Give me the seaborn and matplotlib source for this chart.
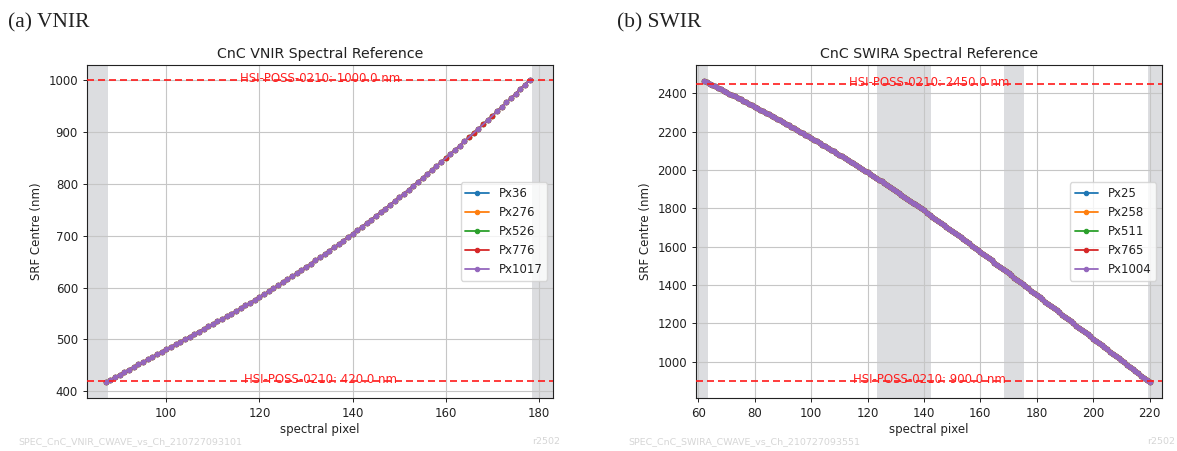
import numpy as np
import pandas as pd
import matplotlib
matplotlib.use("Agg")
import matplotlib.pyplot as plt
import matplotlib.transforms as mtransforms
import seaborn as sns

# ---------------- data ----------------
vnir_pixels = list(range(87, 179))
vnir_wave = [
    417.0, 422.0, 427.0, 432.0, 436.9, 441.9, 446.8, 451.7, 456.6, 461.5,
    466.4, 471.3, 476.1, 481.0, 485.9, 490.7, 495.6, 500.5, 505.3, 510.2,
    515.1, 520.0, 524.9, 529.8, 534.7, 539.7, 544.7, 549.9, 555.0, 560.3,
    565.5, 570.9, 576.3, 581.8, 587.3, 592.9, 598.5, 604.3, 610.0, 615.9,
    621.7, 627.7, 633.7, 639.8, 645.9, 652.1, 658.3, 664.7, 671.0, 677.5,
    683.9, 690.5, 697.1, 703.8, 710.5, 717.3, 724.1, 731.1, 738.0, 745.1,
    752.1, 759.3, 766.5, 773.8, 781.1, 788.5, 795.9, 803.5, 811.0, 818.7,
    826.3, 834.1, 841.9, 849.8, 857.7, 865.7, 873.7, 881.8, 889.9, 898.1,
    906.3, 914.6, 922.9, 931.3, 939.8, 948.2, 956.8, 965.3, 974.0, 982.7,
    991.4, 1000.2,
]
vnir_series = ["Px36", "Px276", "Px526", "Px776", "Px1017"]
# pixels where the Px1017 trace has no centre estimate
vnir_px1017_missing = [160, 165, 166, 168, 170]
vnir_limits = [420.0, 1000.0]
vnir_masked = [(None, 87.5), (178.5, None)]

swir_pixels = list(range(62, 221))
swir_wave = [
    2466.0, 2458.7, 2451.3, 2444.0, 2436.6, 2429.2, 2421.7, 2414.2, 2406.7, 2399.2,
    2391.6, 2384.0, 2376.4, 2368.8, 2361.1, 2353.4, 2345.6, 2337.9, 2330.1, 2322.3,
    2314.4, 2306.5, 2298.6, 2290.7, 2282.7, 2274.6, 2266.6, 2258.5, 2250.4, 2242.2,
    2234.0, 2225.7, 2217.5, 2209.2, 2200.8, 2192.4, 2184.0, 2175.6, 2167.1, 2158.6,
    2150.0, 2141.4, 2132.7, 2124.0, 2115.3, 2106.5, 2097.7, 2088.8, 2079.9, 2070.9,
    2061.9, 2052.8, 2043.7, 2034.5, 2025.3, 2016.1, 2006.8, 1997.5, 1988.1, 1978.7,
    1969.2, 1959.7, 1950.1, 1940.4, 1930.7, 1921.0, 1911.1, 1901.3, 1891.4, 1881.4,
    1871.3, 1861.3, 1851.1, 1840.9, 1830.7, 1820.4, 1810.0, 1799.6, 1789.1, 1778.6,
    1768.0, 1757.5, 1746.9, 1736.2, 1725.6, 1714.9, 1704.1, 1693.4, 1682.6, 1671.8,
    1660.9, 1650.1, 1639.2, 1628.2, 1617.3, 1606.3, 1595.2, 1584.2, 1573.1, 1562.0,
    1550.9, 1539.7, 1528.6, 1517.4, 1506.2, 1495.0, 1483.8, 1472.6, 1461.4, 1450.1,
    1438.8, 1427.5, 1416.2, 1404.9, 1393.6, 1382.2, 1370.9, 1359.5, 1348.1, 1336.7,
    1325.3, 1313.9, 1302.5, 1291.2, 1279.8, 1268.4, 1257.1, 1245.7, 1234.4, 1223.0,
    1211.7, 1200.3, 1189.0, 1177.7, 1166.3, 1155.0, 1143.7, 1132.4, 1121.1, 1109.8,
    1098.5, 1087.2, 1075.8, 1064.5, 1053.1, 1041.8, 1030.4, 1019.0, 1007.6, 996.2,
    984.8, 973.4, 961.9, 950.5, 939.0, 927.6, 916.1, 904.6, 893.1,
]
swir_series = ["Px25", "Px258", "Px511", "Px765", "Px1004"]
swir_limits = [900.0, 2450.0]
swir_masked = [(None, 63.5), (123.5, 142.5), (168.5, 175.5), (219.5, None)]

# ---------------- style ----------------
sns.set_theme(style="ticks", rc={
    "axes.grid": True,
    "axes.axisbelow": "line",
    "grid.color": "#c6c6c6",
    "grid.linewidth": 0.8,
    "axes.edgecolor": "#222222",
    "axes.linewidth": 0.8,
    "xtick.major.size": 3.0,
    "ytick.major.size": 3.0,
    "xtick.major.width": 0.7,
    "ytick.major.width": 0.7,
    "xtick.labelsize": 8.5,
    "ytick.labelsize": 8.5,
    "axes.labelsize": 8.5,
    "axes.titlesize": 10.2,
    "legend.fontsize": 8.5,
    "text.color": "#222222",
    "axes.labelcolor": "#222222",
    "xtick.color": "#222222",
    "ytick.color": "#222222",
})
plt.rcParams["font.family"] = ["DejaVu Sans"]
palette = sns.color_palette("tab10", 5)


def long_frame(pixels, wave, series, missing=None):
    rows = []
    for name in series:
        vals = list(wave)
        if missing and name in missing:
            vals = [np.nan if p in missing[name] else v for p, v in zip(pixels, vals)]
        rows.append(pd.DataFrame({"pixel": pixels, "wave": vals, "series": name}))
    return pd.concat(rows, ignore_index=True)


def draw_panel(fig, ax, df, series, limits, masked, xlim, ylim, title):
    lo_x, hi_x = xlim
    for a, b in masked:
        ax.axvspan(lo_x if a is None else a, hi_x if b is None else b,
                   color="#dcdde0", lw=0, zorder=1)
    sns.lineplot(data=df, x="pixel", y="wave", hue="series", hue_order=series,
                 palette=palette, marker=".", markersize=6.3, markeredgewidth=0.8,
                 linewidth=1.3, sort=False, ax=ax, zorder=3, legend=True)
    # solid dots: edge in the trace colour
    for ln in ax.get_lines():
        ln.set_markeredgecolor(ln.get_color())
    text_shift = mtransforms.ScaledTranslation(0, -1.6 / 72, fig.dpi_scale_trans)
    for v in limits:
        ax.axhline(v, color="#ff1a1a", ls="--", lw=1.2, dashes=(4.2, 2.4), zorder=4)
        ax.text(0.5, v, f"HSI-POSS-0210: {v:.1f} nm",
                transform=ax.get_yaxis_transform() + text_shift,
                ha="center", va="baseline", color="#ff2020", fontsize=8.5, zorder=5)
    ax.set_xlim(*xlim)
    ax.set_ylim(*ylim)
    ax.set_title(title, pad=5)
    ax.set_xlabel("spectral pixel", labelpad=2)
    ax.set_ylabel("SRF Centre (nm)", labelpad=4)
    for s in ax.spines.values():
        s.set_visible(True)
    leg = ax.legend(loc="center right", framealpha=0.8, edgecolor="#d0d0d0",
                    handlelength=2.0, borderaxespad=0.5)
    for h in leg.legend_handles:
        h.set_markeredgecolor(h.get_color())


fig = plt.figure(figsize=(11.77, 4.51), dpi=100)
ax1 = fig.add_axes([87 / 1177, 53 / 451, 466 / 1177, 333 / 451])
ax2 = fig.add_axes([696 / 1177, 53 / 451, 466 / 1177, 333 / 451])

vnir_df = long_frame(vnir_pixels, vnir_wave, vnir_series,
                     missing={"Px1017": vnir_px1017_missing})
draw_panel(fig, ax1, vnir_df, vnir_series, vnir_limits, vnir_masked,
           (83.0, 183.0), (387.0, 1029.0), "CnC VNIR Spectral Reference")
ax1.set_xticks([100, 120, 140, 160, 180])
ax1.set_yticks([400, 500, 600, 700, 800, 900, 1000])

swir_df = long_frame(swir_pixels, swir_wave, swir_series)
draw_panel(fig, ax2, swir_df, swir_series, swir_limits, swir_masked,
           (59.2, 224.4), (811.0, 2548.0), "CnC SWIRA Spectral Reference")
ax2.set_xticks(list(range(60, 221, 20)))
ax2.set_yticks(list(range(1000, 2401, 200)))

# panel captions
fig.text(8 / 1177, 1 - 27 / 451, "(a) VNIR", family="Liberation Serif",
         fontsize=15.5, color="#222222", va="baseline")
fig.text(617 / 1177, 1 - 27 / 451, "(b) SWIR", family="Liberation Serif",
         fontsize=15.5, color="#222222", va="baseline")

# run identifiers
foot = "#d6d6d6"
fig.text(18 / 1177, 1 - 444 / 451, "SPEC_CnC_VNIR_CWAVE_vs_Ch_210727093101",
         fontsize=6.8, color=foot, va="baseline")
fig.text(560 / 1177, 1 - 444 / 451, "r2502", fontsize=6.8, color=foot,
         va="baseline", ha="right")
fig.text(628 / 1177, 1 - 444 / 451, "SPEC_CnC_SWIRA_CWAVE_vs_Ch_210727093551",
         fontsize=6.8, color=foot, va="baseline")
fig.text(1175 / 1177, 1 - 444 / 451, "r2502", fontsize=6.8, color=foot,
         va="baseline", ha="right")

fig.savefig("out.png", dpi=100)
